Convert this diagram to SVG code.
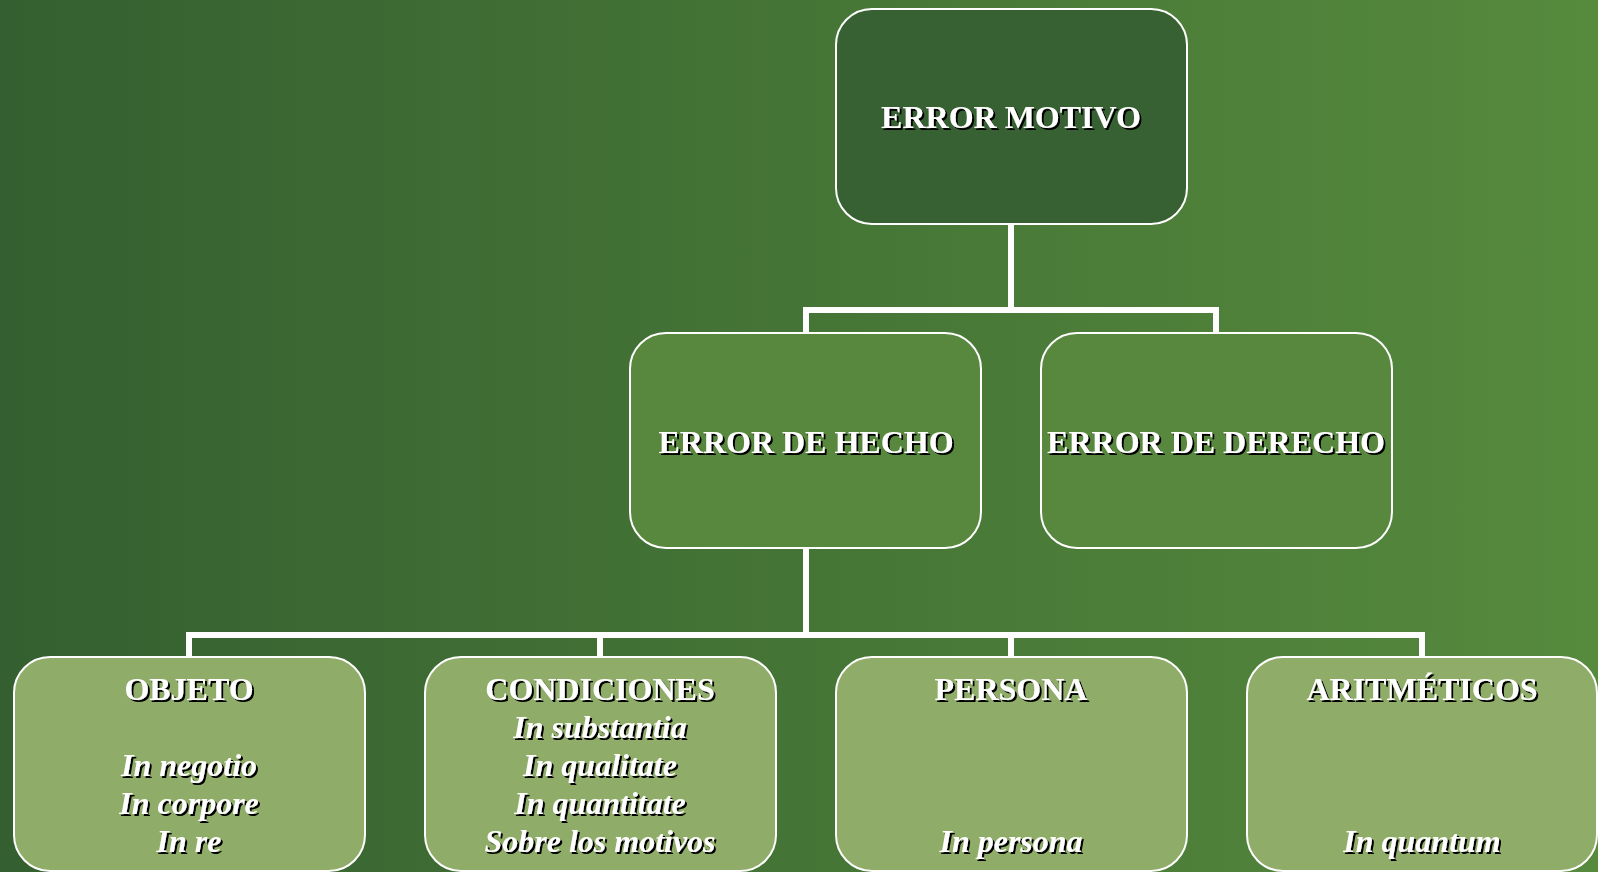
<svg xmlns="http://www.w3.org/2000/svg" width="1598" height="872" viewBox="0 0 1598 872">
<defs>
<linearGradient id="bg" x1="0" y1="0" x2="1" y2="0">
<stop offset="0" stop-color="#345f30"/>
<stop offset="0.5" stop-color="#457536"/>
<stop offset="1" stop-color="#568a3d"/>
</linearGradient>
<filter id="sh" x="-10%" y="-30%" width="120%" height="160%">
<feDropShadow dx="2" dy="2" stdDeviation="0.3" flood-color="#000" flood-opacity="1"/>
</filter>
<style>
.box{stroke:#fff;stroke-width:2}
.l1{fill:#376132}
.l2{fill:#58873e}
.l3{fill:#8fac68}
.t{font-family:"Liberation Serif","Times New Roman",serif;font-size:32px;fill:#fff;text-anchor:middle;filter:url(#sh)}
.b{font-weight:bold}
.i{font-weight:bold;font-style:italic}
.conn{fill:none;stroke:#fff;stroke-width:6}
</style>
</defs>
<rect x="0" y="0" width="1598" height="872" fill="url(#bg)"/>
<g id="connectors">
<path class="conn" d="M1011,224 V310 M806,310 H1216 M806,307 V332 M1216,307 V332"/>
<path class="conn" d="M806,548 V635 M189,635 H1422 M189,632 V657 M600,632 V657 M1011,632 V657 M1422,632 V657"/>
</g>
<g id="n-motivo">
<rect class="box l1" x="836" y="9" width="351" height="215" rx="36"/>
<text class="t b" x="1011" y="128">ERROR MOTIVO</text>
</g>
<g id="n-hecho">
<rect class="box l2" x="630" y="333" width="351" height="215" rx="36"/>
<text class="t b" x="806" y="453">ERROR DE HECHO</text>
</g>
<g id="n-derecho">
<rect class="box l2" x="1041" y="333" width="351" height="215" rx="36"/>
<text class="t b" x="1216" y="453">ERROR DE DERECHO</text>
</g>
<g id="n-objeto">
<rect class="box l3" x="14" y="657" width="351" height="214" rx="36"/>
<text class="t b" x="189" y="700">OBJETO</text>
<text class="t i" x="189" y="776">In negotio</text>
<text class="t i" x="189" y="814">In corpore</text>
<text class="t i" x="189" y="852">In re</text>
</g>
<g id="n-condiciones">
<rect class="box l3" x="425" y="657" width="351" height="214" rx="36"/>
<text class="t b" x="600" y="700">CONDICIONES</text>
<text class="t i" x="600" y="738">In substantia</text>
<text class="t i" x="600" y="776">In qualitate</text>
<text class="t i" x="600" y="814">In quantitate</text>
<text class="t i" x="600" y="852">Sobre los motivos</text>
</g>
<g id="n-persona">
<rect class="box l3" x="836" y="657" width="351" height="214" rx="36"/>
<text class="t b" x="1011" y="700">PERSONA</text>
<text class="t i" x="1011" y="852">In persona</text>
</g>
<g id="n-aritmeticos">
<rect class="box l3" x="1247" y="657" width="350" height="214" rx="36"/>
<text class="t b" x="1422" y="700">ARITMÉTICOS</text>
<text class="t i" x="1422" y="852">In quantum</text>
</g>
</svg>
